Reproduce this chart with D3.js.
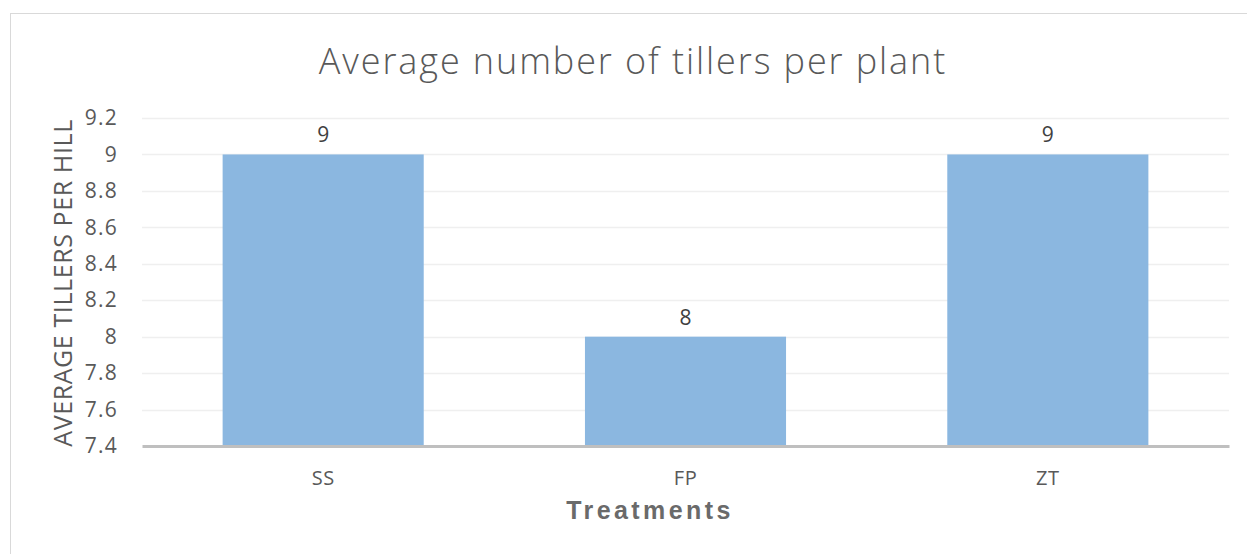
<!DOCTYPE html>
<html><head><meta charset="utf-8">
<script src="https://cdn.jsdelivr.net/npm/d3@7"></script>
<style>body{margin:0;background:#fff}svg{display:block}</style>
</head><body>
<script>
const categories = ["SS", "FP", "ZT"];
const values = [9, 8, 9];
const yTicks = [7.4, 7.6, 7.8, 8, 8.2, 8.4, 8.6, 8.8, 9, 9.2];
const titleText = "Average number of tillers per plant";
const xTitle = "Treatments";
const yTitle = "AVERAGE TILLERS PER HILL";

const W = 1247, H = 554;
const m = {left: 142, right: 1229, top: 118, bottom: 446};
const svg = d3.select("body").append("svg").attr("width", W).attr("height", H);

// frame
svg.append("rect").attr("x", 10.5).attr("y", 13.5).attr("width", W + 20).attr("height", H + 20)
  .attr("fill", "none").attr("stroke", "#d9d9d9").attr("stroke-width", 1);

const x = d3.scaleBand().domain(categories).range([m.left, m.right]).paddingInner(0.445).paddingOuter(0.2225);
const y = d3.scaleLinear().domain([7.4, 9.2]).range([m.bottom, m.top]);

// gridlines
svg.append("g").selectAll("line").data(yTicks.slice(1)).join("line")
  .attr("x1", m.left).attr("x2", m.right)
  .attr("y1", d => Math.round(y(d)) + 0.5).attr("y2", d => Math.round(y(d)) + 0.5)
  .attr("stroke", "#efefef").attr("stroke-width", 1.5);

// y axis labels
const yAxis = d3.axisLeft(y).tickValues(yTicks).tickSize(0).tickPadding(0).tickFormat(d3.format("~g"));
const gy = svg.append("g").attr("transform", "translate(118,0)").call(yAxis);
gy.select(".domain").remove();
gy.selectAll("text").attr("font-family", "'Open Sans', sans-serif").attr("font-size", 21)
  .attr("letter-spacing", 1.2).attr("fill", "#595959");

// bars
svg.append("g").selectAll("rect").data(values).join("rect")
  .attr("x", (d, i) => x(categories[i])).attr("width", x.bandwidth())
  .attr("y", d => y(d)).attr("height", d => y(7.4) - y(d))
  .attr("fill", "#8bb7e0");

// data labels
svg.append("g").selectAll("text").data(values).join("text")
  .attr("x", (d, i) => x(categories[i]) + x.bandwidth() / 2)
  .attr("y", d => y(d) - 12)
  .attr("text-anchor", "middle").attr("font-family", "'Open Sans', sans-serif")
  .attr("font-size", 21).attr("fill", "#404040").text(d => d);

// x axis
const xAxis = d3.axisBottom(x).tickSize(0).tickPadding(0);
const gx = svg.append("g").attr("transform", `translate(0,${m.bottom})`).call(xAxis);
gx.select(".domain").attr("stroke", "#bfbfbf").attr("stroke-width", 3);
gx.selectAll("text").attr("dy", "0").attr("y", 39).attr("font-family", "'Open Sans', sans-serif")
  .attr("font-size", 20).attr("letter-spacing", 0.5).attr("fill", "#595959");

// titles
svg.append("text").attr("x", 633).attr("y", 74).attr("text-anchor", "middle")
  .attr("font-family", "'Open Sans', sans-serif").attr("font-size", 36).attr("font-weight", 300)
  .attr("letter-spacing", 1.9).attr("fill", "#595959").text(titleText);
svg.append("text").attr("x", 650).attr("y", 519).attr("text-anchor", "middle")
  .attr("font-family", "'Liberation Sans', Arial, sans-serif").attr("font-size", 25).attr("font-weight", "bold")
  .attr("letter-spacing", 3.4).attr("fill", "#6a6a6a").text(xTitle);
svg.append("text").attr("transform", `translate(72,${(m.top + m.bottom) / 2 + 1}) rotate(-90)`)
  .attr("text-anchor", "middle").attr("font-family", "'Open Sans', sans-serif")
  .attr("font-size", 25).attr("letter-spacing", 0.6).attr("fill", "#595959").text(yTitle);
</script>
</body></html>
